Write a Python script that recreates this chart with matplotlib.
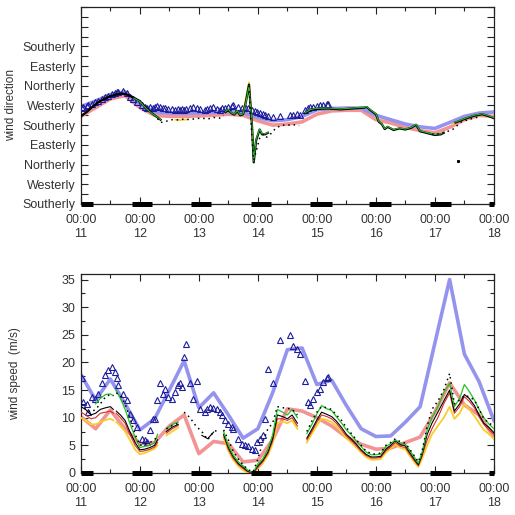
import numpy as np
import matplotlib
matplotlib.use('Agg')
import matplotlib.pyplot as plt
from matplotlib.ticker import MultipleLocator, FixedLocator

nan = np.nan

# model output, 6-hourly
mod_t = np.arange(11.0, 18.01, 0.25)
mod_spd_blue = [17.8, 13.2, 17.0, 12.5, 7.8, 9.8, 15.0, 20.3, 11.8, 14.5, 10.5, 6.3, 8.0, 14.5,
                22.3, 22.6, 16.0, 16.8, 12.2, 8.0, 6.6, 6.7, 9.2, 12.0, 23.5, 35.0, 21.5, 16.5, 9.5]
mod_spd_pink = [10.2, 8.0, 11.4, 8.0, 5.3, 5.5, 8.5, 10.5, 3.5, 5.7, 5.3, 2.0, 2.3, 6.0,
                11.6, 11.2, 10.0, 8.5, 6.5, 5.2, 4.3, 4.5, 5.5, 6.5, 11.0, 16.3, 12.3, 10.5, 6.5]
mod_dir_blue = [445, 470, 500, 512, 455, 420, 415, 415, 415, 418, 422, 418, 395, 380,
                385, 400, 430, 436, 438, 438, 405, 385, 365, 352, 345, 372, 400, 415, 420]
mod_dir_pink = [400, 440, 480, 495, 440, 405, 400, 400, 402, 405, 410, 405, 380, 360,
                365, 375, 410, 425, 428, 428, 385, 370, 350, 335, 325, 350, 385, 405, 400]

# observations (triangles)
obs_t = [11.02, 11.03, 11.10, 11.12, 11.19, 11.24, 11.29, 11.36, 11.41, 11.46, 11.53, 11.58,
         11.61, 11.63, 11.71, 11.78, 11.83, 11.88, 11.95, 12.03, 12.08, 12.12, 12.17, 12.22,
         12.25, 12.29, 12.34, 12.39, 12.42, 12.47, 12.54, 12.59, 12.64, 12.68, 12.71, 12.75,
         12.78, 12.85, 12.90, 12.97, 13.02, 13.10, 13.14, 13.19, 13.24, 13.31, 13.36, 13.39,
         13.44, 13.49, 13.56, 13.58, 13.66, 13.73, 13.78, 13.83, 13.90, 13.95, 13.98, 14.03,
         14.08, 14.12, 14.17, 14.25, 14.37, 14.54, 14.59, 14.66, 14.71, 14.80, 14.85, 14.88,
         14.93, 15.00, 15.05, 15.10, 15.17, 15.19]
obs_spd = [17.1, 12.9, 12.5, 11.1, 13.8, 13.4, 14.2, 16.2, 17.8, 18.7, 19.2, 18.3,
           17.1, 16.0, 14.3, 13.2, 10.7, 9.6, 8.3, 6.2, 6.0, 5.6, 7.8, 9.8,
           9.8, 13.2, 16.2, 14.3, 15.2, 13.8, 13.4, 14.7, 16.0, 16.2, 15.6, 21.0,
           23.4, 16.2, 13.4, 16.7, 11.6, 11.1, 11.6, 12.0, 11.8, 11.6, 11.1, 10.5,
           9.6, 8.9, 8.3, 8.0, 6.2, 5.3, 5.1, 4.9, 4.4, 4.2, 5.6, 6.2,
           6.9, 9.8, 18.9, 16.2, 24.1, 25.0, 22.9, 22.5, 21.6, 16.7, 12.9, 12.3,
           13.4, 14.7, 15.2, 16.5, 17.1, 17.4]
obs_dir = [440, 445, 448, 450, 458, 465, 472, 480, 488, 495, 502, 508,
           510, 512, 515, 505, 490, 478, 465, 452, 445, 440, 445, 438,
           442, 448, 445, 440, 438, 435, 432, 430, 434, 428, 432, 430,
           436, 440, 445, 438, 432, 430, 435, 440, 442, 436, 430, 438,
           440, 445, 447, 450, 445, 440, 445, 438, 430, 425, 420, 415,
           410, 405, 400, 395, 400, 405, 408, 410, 405, 430, 438, 442,
           445, 448, 450, 452, 455, 458]

# station wind speed (thin lines), nan = missing
stn_t = [11.0, 11.08, 11.17, 11.25, 11.33, 11.42, 11.5, 11.55, 11.57,
         11.6, 11.67, 11.75, 11.83, 11.92, 12.0, 12.08, 12.17, 12.25, 12.3, 12.38,
         12.45, 12.55, 12.65, 12.7,
         12.75, 12.85, 12.95, 13.05, 13.15, 13.25, 13.35, 13.38,
         13.42, 13.5, 13.58, 13.67, 13.75, 13.83, 13.92, 14.0, 14.08, 14.17, 14.25, 14.33,
         14.42, 14.5, 14.58, 14.67, 14.75,
         14.83, 14.92, 15.0, 15.08, 15.17, 15.25, 15.33, 15.42, 15.5, 15.58, 15.67, 15.75,
         15.83, 15.92, 16.0, 16.08, 16.17, 16.25, 16.33, 16.42, 16.5, 16.58, 16.67, 16.72,
         16.78, 16.87, 16.95, 17.05, 17.15, 17.25,
         17.33, 17.42, 17.5, 17.58, 17.67, 17.75, 17.83, 17.92, 18.0]
spd_green = [nan, nan, nan, 12.5, 13.5, 14.2, 14.3, 14.0, nan,
             15.0, 13.5, 11.5, 9.0, 6.5, 4.6, 4.8, 5.0, 5.5, 7.0, nan,
             8.0, 8.8, 9.2, nan,
             nan, nan, nan, nan, nan, nan, nan, nan,
             7.5, 5.0, 3.3, 2.0, 1.3, 0.5, 0.0, 1.7, 2.5, 4.3, 6.9, 11.5,
             11.0, 10.5, 11.5, 10.0, nan,
             7.1, 8.9, 10.7, 12.2, 11.6, 11.3, 10.2, 9.0, 7.8, 6.9, 5.8, 4.8,
             3.8, 3.3, 3.3, 3.4, 4.8, 5.3, 6.0, 5.4, 5.2, 4.0, 2.6, 1.8,
             3.6, 7.8, 10.0, 12.0, 14.5, 16.2,
             12.0, 13.5, 16.0, 14.8, 13.2, 11.5, 10.0, 8.8, 8.0]
spd_black = [12.0, 11.5, 10.5, 10.8, 11.5, 11.8, 12.0, 11.5, nan,
             11.2, 10.5, 9.5, 7.5, 5.5, 4.2, 4.3, 4.6, 5.0, 6.0, nan,
             7.5, 8.3, 8.8, nan,
             nan, nan, nan, 6.8, 6.2, 7.4, nan, nan,
             7.0, 4.6, 3.0, 1.7, 1.0, 0.3, 0.0, 1.3, 2.2, 3.8, 6.2, 10.5,
             10.2, 9.8, 10.5, 9.0, nan,
             6.3, 8.0, 9.6, 11.0, 10.6, 10.2, 9.4, 8.2, 7.0, 6.2, 5.2, 4.2,
             3.4, 2.9, 2.9, 3.0, 4.3, 5.0, 5.8, 5.1, 4.9, 3.6, 2.2, 1.5,
             3.2, 7.0, 9.0, 11.0, 13.0, 15.0,
             11.2, 12.5, 14.2, 13.5, 12.2, 10.5, 9.0, 8.2, 7.3]
spd_red = [11.0, 10.5, 9.8, 10.0, 10.8, 11.0, 11.2, 10.8, nan,
           10.8, 10.0, 9.0, 7.0, 5.0, 3.9, 4.0, 4.3, 4.7, 5.5, nan,
           7.2, 8.0, 8.6, nan,
           nan, nan, nan, nan, nan, nan, nan, nan,
           6.7, 4.3, 2.7, 1.5, 0.8, 0.2, 0.0, 1.0, 2.0, 3.5, 5.8, 9.8,
           9.8, 9.5, 10.0, 8.5, nan,
           6.0, 7.6, 9.2, 10.5, 10.2, 9.8, 9.0, 7.8, 6.7, 5.9, 4.9, 4.0,
           3.2, 2.7, 2.7, 2.8, 4.0, 4.7, 5.5, 4.8, 4.6, 3.3, 2.0, 1.3,
           3.0, 6.0, 8.0, 10.0, 12.5, 14.5,
           10.8, 12.0, 13.8, 13.0, 11.8, 10.2, 8.8, 7.8, 7.0]
spd_yellow = [10.0, 9.5, 8.8, 8.8, 9.2, 9.6, 9.8, 9.5, nan,
              9.2, 8.5, 7.5, 6.0, 4.2, 3.4, 3.6, 4.0, 4.4, 5.0, nan,
              6.8, 7.5, 8.2, nan,
              nan, nan, nan, nan, nan, nan, nan, nan,
              6.3, 4.0, 2.4, 1.2, 0.5, 0.0, 0.0, 0.8, 1.7, 3.2, 5.3, 9.0,
              9.3, 9.0, 9.5, 8.0, nan,
              5.5, 7.2, 8.6, 9.8, 9.6, 9.2, 8.5, 7.3, 6.3, 5.5, 4.6, 3.7,
              2.9, 2.4, 2.4, 2.5, 3.7, 4.4, 5.2, 4.5, 4.3, 3.0, 1.7, 1.1,
              2.5, 5.0, 7.0, 8.5, 10.0, 12.0,
              9.8, 10.8, 12.5, 11.5, 10.3, 9.0, 7.8, 7.0, 6.2]
spd_dotted = [12.5, 11.5, 11.0, 11.5, 12.5, 13.8, 14.2, 14.0, nan,
              14.5, 14.0, 12.5, 10.0, 7.0, 5.0, 5.2, 5.5, 6.0, 6.8, nan,
              8.0, 8.6, 9.0, nan,
              11.0, 10.0, 8.5, 7.5, 6.0, 7.5, 7.8, nan,
              7.8, 6.0, 4.0, 2.5, 1.5, 0.6, 0.2, 2.5, 5.5, 8.0, 9.0, 12.0,
              11.8, 11.7, 11.5, 10.5, nan,
              7.5, 9.5, 11.0, 12.0, 11.8, 11.5, 10.5, 9.5, 8.2, 7.2, 6.0, 5.0,
              4.0, 3.5, 3.4, 3.6, 5.0, 5.5, 6.2, 5.6, 5.4, 4.2, 2.8, 2.0,
              3.8, 8.5, 11.5, 13.0, 15.0, 18.0,
              12.5, 13.2, 14.0, 13.8, 13.2, 11.5, 9.8, 9.0, 8.5]

# station wind direction (thin lines)
dir_t = [11.0, 11.1, 11.2, 11.3, 11.4, 11.5, 11.6, 11.7, 11.8, 11.9, 12.0, 12.1, 12.2, 12.3, 12.35,
         12.4, 13.4,
         13.45, 13.5, 13.55, 13.6, 13.65, 13.7, 13.75, 13.8, 13.85, 13.9, 13.93, 13.97, 14.03,
         14.07, 14.12, 14.17, 14.5,
         14.8, 14.9, 15.0, 15.2, 15.4, 15.6, 15.8, 15.85, 15.9, 16.0, 16.05, 16.1, 16.15, 16.2,
         16.3, 16.4, 16.5, 16.6, 16.68, 16.75, 16.85, 17.0, 17.1, 17.15, 17.25,
         17.35, 17.5, 17.65, 17.8, 17.9, 18.0]
dir_black = [400, 420, 445, 465, 480, 492, 500, 505, 498, 485, 470, 440, 415, 395, 385,
             nan, nan,
             420, 430, 415, 408, 425, 405, 410, 470, 545, 360, 190, 290, 340,
             318, 318, 325, nan,
             415, 430, 435, 436, 432, 436, 440, 442, 430, 410, 375, 365, 342, 352,
             338, 345, 340, 348, 362, 332, 325, 315, 318, 325, nan,
             372, 388, 402, 410, 402, 392]
dir_green = [nan, nan, nan, nan, nan, nan, nan, nan, nan, 483, 468, 438, 414, 396, 386,
             nan, nan,
             422, 432, 416, 410, 427, 407, 412, 468, 540, 365, 195, 295, 342,
             320, 320, 327, nan,
             417, 432, 437, 438, 434, 438, 442, 444, 432, 412, 377, 367, 344, 354,
             340, 347, 342, 350, 364, 334, 327, 317, 320, 327, nan,
             374, 390, 404, 412, 404, 394]
dot_t = [12.3, 12.35, 12.45, 12.55, 12.65, 12.75, 12.85, 12.95, 13.05, 13.15, 13.25, 13.35, 13.42,
         13.6, 13.85, 13.9, 13.93, 13.97, 14.03, 14.1, 14.15, 14.2, 14.3, 14.4, 14.5, 14.6, 14.7,
         14.8, 16.95, 17.1, 17.2, 17.3, 17.45, 17.6, 17.75]
dir_dotted = [390, 372, 378, 385, 384, 388, 385, 390, 392, 388, 395, 392, 405,
              nan, 540, 300, 200, 240, 300, 320, 305, 315, 345, 360, 360, 362, 358,
              nan, 318, 320, 330, 340, 375, 388, 398]
yel_t = [12.6, 12.7, 12.8, 12.9, 13.75, 13.8, 13.85, 13.9, 13.93, 14.0, 17.3, 17.45, 17.55]
dir_yellow = [385, 383, 386, nan, 415, 490, 556, 380, 200, nan, 365, 382, 390]
stray_t = [17.39]
stray_dir = [198]

# night periods
night_start = [11.0, 11.87, 12.87, 13.88, 14.89, 15.89, 16.91, 17.92]
night_end = [11.2, 12.21, 13.21, 14.22, 15.26, 16.26, 17.27, 18.0]

days = [11, 12, 13, 14, 15, 16, 17, 18]
dir_names = ['Southerly', 'Westerly', 'Northerly', 'Easterly', 'Southerly',
             'Westerly', 'Northerly', 'Easterly', 'Southerly']

txt = '#333333'
blue_thick = '#9494ee'
pink_thick = '#f29494'
tri_col = '#1c1c9c'

plt.rcParams['font.family'] = ['Liberation Sans', 'DejaVu Sans']
plt.rcParams['font.size'] = 9

fig = plt.figure(figsize=(5.15, 5.15), dpi=100)
ax1 = fig.add_axes([0.157, 0.604, 0.802, 0.3825])
ax2 = fig.add_axes([0.157, 0.0816, 0.802, 0.3864])


def style_axis(ax, ymin):
    ax.set_xlim(11, 18)
    ax.xaxis.set_major_locator(FixedLocator(days))
    ax.xaxis.set_minor_locator(MultipleLocator(0.5))
    ax.set_xticklabels(['00:00\n%d' % d for d in days], color=txt, linespacing=1.3)
    ax.tick_params(axis='both', which='both', direction='in', top=True, right=True,
                   color='#222222', width=0.8)
    ax.tick_params(axis='both', which='major', length=5)
    ax.tick_params(axis='both', which='minor', length=3)
    ax.tick_params(axis='x', pad=7)
    ax.tick_params(axis='y', pad=4, labelcolor=txt)
    for sp in ax.spines.values():
        sp.set_linewidth(0.9)
        sp.set_color('#222222')
    for s, e in zip(night_start, night_end):
        ax.plot([s, e], [ymin, ymin], color='k', lw=3.6, solid_capstyle='butt',
                clip_on=False, zorder=6)


# --- wind direction panel ---
ax1.plot(mod_t, mod_dir_pink, color=pink_thick, lw=2.6, zorder=2)
ax1.plot(mod_t, mod_dir_blue, color=blue_thick, lw=2.6, zorder=2)
ax1.plot(obs_t, obs_dir, linestyle='none', marker='^', markersize=4.5, mfc='none',
         mec=tri_col, mew=0.8, zorder=3)
ax1.plot(yel_t, dir_yellow, color='#f2d21c', lw=1.2, zorder=4)
ax1.plot(dir_t, dir_black, color='k', lw=1.6, zorder=4)
ax1.plot(dir_t, dir_green, color='#2eb82e', lw=0.8, zorder=5)
ax1.plot(dot_t, dir_dotted, color='k', lw=1.1, linestyle=(0, (1, 2.5)), zorder=5)
ax1.plot(stray_t, stray_dir, linestyle='none', marker='s', markersize=1.2, color='k')
ax1.set_ylim(0, 900)
ax1.yaxis.set_major_locator(FixedLocator(np.arange(0, 901, 45)))
ax1.set_yticklabels([dir_names[i // 2] if (i % 2 == 0 and i // 2 < len(dir_names)) else ''
                     for i in range(21)])
ax1.set_ylabel('wind direction', color=txt, fontsize=8.5)
ax1.yaxis.set_label_coords(-0.155, 0.5)
style_axis(ax1, 0)

# --- wind speed panel ---
ax2.plot(mod_t, mod_spd_blue, color=blue_thick, lw=2.6, zorder=2)
ax2.plot(mod_t, mod_spd_pink, color=pink_thick, lw=2.6, zorder=2)
ax2.plot(obs_t, obs_spd, linestyle='none', marker='^', markersize=5, mfc='none',
         mec=tri_col, mew=0.8, zorder=3)
ax2.plot(stn_t, spd_yellow, color='#f7cf2a', lw=1.3, zorder=4)
ax2.plot(stn_t, spd_red, color='#d92b2b', lw=0.8, zorder=4)
ax2.plot(stn_t, spd_black, color='k', lw=0.8, zorder=4)
ax2.plot(stn_t, spd_green, color='#22c322', lw=0.9, zorder=5)
ax2.plot(stn_t, spd_dotted, color='k', lw=1.1, linestyle=(0, (1, 2.5)), zorder=5)
ax2.set_ylim(0, 36)
ax2.yaxis.set_major_locator(MultipleLocator(5))
ax2.yaxis.set_minor_locator(MultipleLocator(2.5))
ax2.set_ylabel('wind speed  (m/s)', color=txt, fontsize=8.5)
ax2.yaxis.set_label_coords(-0.145, 0.5)
style_axis(ax2, 0)

fig.savefig('out.png', dpi=100)
